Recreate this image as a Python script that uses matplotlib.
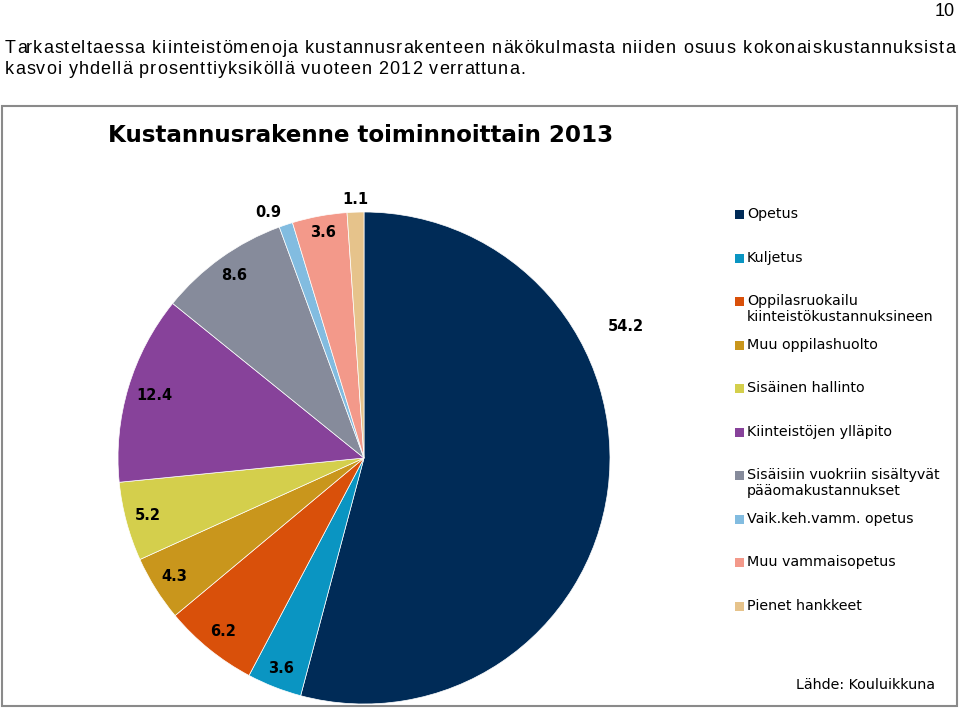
import numpy as np
import matplotlib
matplotlib.use("Agg")
import matplotlib.pyplot as plt
from matplotlib.patches import Rectangle
from matplotlib.font_manager import FontProperties

# Data
categories = ["Opetus", "Kuljetus", "Oppilasruokailu\nkiinteistökustannuksineen",
              "Muu oppilashuolto", "Sisäinen hallinto", "Kiinteistöjen ylläpito",
              "Sisäisiin vuokriin sisältyvät\npääomakustannukset", "Vaik.keh.vamm. opetus",
              "Muu vammaisopetus", "Pienet hankkeet"]
values = [54.2, 3.6, 6.2, 4.3, 5.2, 12.4, 8.6, 0.9, 3.6, 1.1]
colors = ["#002B57", "#0A95C2", "#D9500A", "#C9961C", "#D4CF4C",
          "#87429A", "#868B9B", "#82BCE0", "#F3998A", "#E6C38B"]
title = "Kustannusrakenne toiminnoittain 2013"
source = "Lähde: Kouluikkuna"
para = ["Tarkasteltaessa kiinteistömenoja kustannusrakenteen näkökulmasta niiden osuus kokonaiskustannuksista",
        "kasvoi yhdellä prosenttiyksiköllä vuoteen 2012 verrattuna."]

# label placement (radius factor, angle override) - layout only
lab_r = [1.19, 0.92, 0.91, 0.91, 0.91, 0.89, 0.91, 1.07, 0.93, 1.05]
lab_ang = [26.7, None, None, None, None, None, None, 111.4, None, 92.0]

W, H = 960, 709
fig = plt.figure(figsize=(W / 100, H / 100), dpi=100)
R = 246.0
cx, cy = 364.0, 458.0
ax = fig.add_axes([0, 0, 1, 1])

def px(x, y):
    # pixel (from top-left) to data coords
    return (x - cx) / R, (cy - y) / R

wedges, _ = ax.pie(values, colors=colors, startangle=90, counterclock=False,
                   radius=1.0, center=(0, 0), frame=True,
                   wedgeprops=dict(edgecolor="white", linewidth=0.5))
ax.set_xlim(-cx / R, (W - cx) / R)
ax.set_ylim(-(H - cy) / R, cy / R)
ax.set_aspect("equal")
ax.axis("off")

for w, v, r, a in zip(wedges, values, lab_r, lab_ang):
    ang = (w.theta1 + w.theta2) / 2 if a is None else a
    t = np.deg2rad(ang)
    ax.text(r * np.cos(t), r * np.sin(t), f"{v:.1f}", ha="center", va="center",
            fontsize=10.5, fontweight="bold", family="DejaVu Sans", color="black")

# frame of the embedded chart
x0, y0 = px(2, 706)
x1, y1 = px(957, 106)
ax.add_patch(Rectangle((x0, y0), x1 - x0, y1 - y0, fill=False,
                       edgecolor="#8a8a8a", linewidth=1.5, clip_on=False))

# chart title
tx, ty = px(108, 135)
ax.text(tx, ty, title, ha="left", va="center", fontsize=16.55, fontweight="bold",
        family="DejaVu Sans", color="black")

# legend
leg_y = [214, 258, 301, 345, 388, 432, 475, 519, 562, 606]
for lab, c, yy in zip(categories, colors, leg_y):
    sx, sy = px(735, yy + 4.5)
    ax.add_patch(Rectangle((sx, sy), 9 / R, 9 / R, facecolor=c, edgecolor="none"))
    lx, ly = px(747, yy - 7)
    ax.text(lx, ly, lab, ha="left", va="top", fontsize=10.3, linespacing=1.2,
            family="DejaVu Sans", color="black")

sx, sy = px(935, 685)
ax.text(sx, sy, source, ha="right", va="center", fontsize=10.3,
        family="DejaVu Sans", color="black")

# page text, letter-spaced like the source document
renderer = fig.canvas.get_renderer()
prop = FontProperties(family="Liberation Sans", size=13)

def adv(s):
    # advance width of s in pixels (sentinel keeps trailing spaces)
    if not s:
        return 0.0
    w = lambda t: renderer.get_text_width_height_descent(t, prop, ismath=False)[0]
    return w(s + "H") - w("H")

last = para[-1]
spacing = (525 - 5 - adv(last)) / (len(last) - 1)
line_right = [955, None]
for i, line in enumerate(para):
    base_y = 53 + i * 21
    n = len(line)
    width = adv(line) + spacing * (n - 1)
    extra = 0.0
    if line_right[i] is not None:
        extra = (line_right[i] - 5 - width) / max(line.count(" "), 1)
    nsp = 0
    for k, ch in enumerate(line):
        if ch == " ":
            nsp += 1
            continue
        xk = 5 + adv(line[:k]) + k * spacing + nsp * extra
        lx, ly = px(xk, base_y)
        ax.text(lx, ly, ch, ha="left", va="baseline", fontproperties=prop, color="black")

px10, py10 = px(955, 16)
ax.text(px10, py10, "10", ha="right", va="baseline", fontproperties=prop, color="black")

fig.savefig("out.png", dpi=100)
